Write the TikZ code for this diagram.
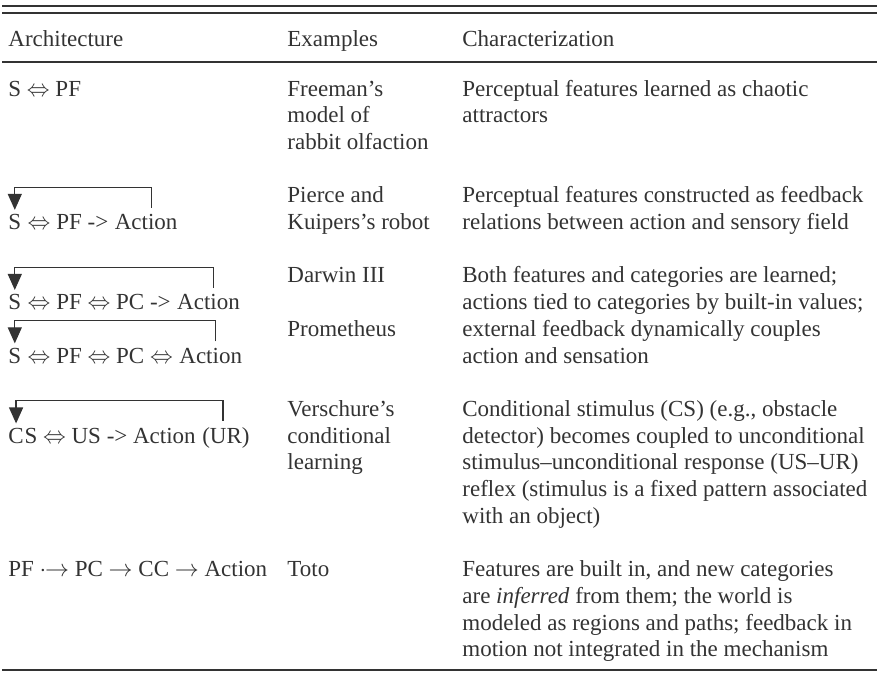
\documentclass[tikz,border=0pt]{standalone}
\usepackage{fontspec}
\setmainfont{Liberation Serif}
\usepackage{graphicx}
\usetikzlibrary{arrows.meta}
\colorlet{ink}{black!80}
\tikzset{%
  >={Triangle[width=7pt,length=8pt]}, % default arrow style
  txt/.style={anchor=base west,inner sep=0pt,text=ink,%
    font=\fontsize{11.5}{13.35}\selectfont},%
  hrule/.style={draw=ink,line width=0.65pt},%
  fb/.style={draw=ink,line width=0.6pt,->}%
}
\newcommand{\dbl}{\scalebox{0.95}[1]{$\Leftrightarrow$}}
\newcommand{\cell}[1]{\begin{tabular}[t]{@{}l@{}}#1\end{tabular}}
\newcommand{\feedback}[3][4pt]{% shift, from node, to node
  \draw[fb] ([xshift=#1,yshift=3pt]#2.north) -- ++(0,-20.5) -| ([yshift=2pt]#3.north);
}

\begin{document}
\begin{tikzpicture}[x=0.5pt,y=-0.5pt]
  \useasboundingbox (0,0) rectangle (880,675);
  % rules
  \draw[hrule] (2,6)  -- (877,6);
  \draw[hrule] (2,13) -- (877,13);
  \draw[hrule] (2,62) -- (877,62);
  \draw[hrule,line width=1.3pt] (2,670) -- (877,670);
  % header
  \node[txt] (h1) at (8,46)   {Architecture};
  \node[txt] (h2) at (287,46) {Examples};
  \node[txt] (h3) at (462,46) {Characterization};
  % row 1
  \node[txt] (s1)  at (8,96)   {S \dbl{} PF};
  \node[txt] (ex1) at (287,96) {\cell{Freeman’s\\model of\\rabbit olfaction}};
  \node[txt] (ch1) at (462,96) {\cell{Perceptual features learned as chaotic\\attractors}};
  % row 2
  \node[txt] (s2)   at (8,229.5)     {S};
  \node[txt] (m2)   at (s2.base east) {\ \dbl\ PF ->};
  \node[txt] (act2) at (m2.base east) {\ Action};
  \node[txt] (ex2) at (287,202.8) {\cell{Pierce and\\Kuipers’s robot}};
  \node[txt] (ch2) at (462,202.8) {\cell{Perceptual features constructed as feedback\\relations between action and sensory field}};
  \feedback{act2}{s2}
  % row 3
  \node[txt] (s3)   at (8,309.6)     {S};
  \node[txt] (m3)   at (s3.base east) {\ \dbl\ PF \dbl\ PC ->};
  \node[txt] (act3) at (m3.base east) {\ Action};
  \node[txt] (s4)   at (8,363)       {S};
  \node[txt] (m4)   at (s4.base east) {\ \dbl\ PF \dbl\ PC \dbl};
  \node[txt] (act4) at (m4.base east) {\ Action};
  \node[txt] (ex3) at (287,282.9) {Darwin III};
  \node[txt] (ex4) at (287,336.3) {Prometheus};
  \node[txt] (ch3) at (462,282.9) {\cell{Both features and categories are learned;\\actions tied to categories by built-in values;\\external feedback dynamically couples\\action and sensation}};
  \feedback{act3}{s3}
  \feedback{act4}{s4}
  % row 4
  \node[txt] (c5)  at (8,443.1)      {C};
  \node[txt] (m5)  at (c5.base east) {S \dbl\ US -> Action};
  \node[txt] (ur5) at (m5.base east) {\ (UR)};
  \node[txt] (ex5) at (287,416.4) {\cell{Verschure’s\\conditional\\learning}};
  \node[txt] (ch5) at (462,416.4) {\cell{Conditional stimulus (CS) (e.g., obstacle\\detector) becomes coupled to unconditional\\stimulus–unconditional response (US–UR)\\reflex (stimulus is a fixed pattern associated\\with an object)}};
  \feedback[0pt]{ur5}{c5}
  % row 5
  \node[txt] (s6)  at (8,576.6)   {PF $\cdot\!\!\rightarrow$ PC $\rightarrow$ CC $\rightarrow$ Action};
  \node[txt] (ex6) at (287,576.6) {Toto};
  \node[txt] (ch6) at (462,576.6) {\cell{Features are built in, and new categories\\are \textit{inferred} from them; the world is\\modeled as regions and paths; feedback in\\motion not integrated in the mechanism}};
\end{tikzpicture}
\end{document}
